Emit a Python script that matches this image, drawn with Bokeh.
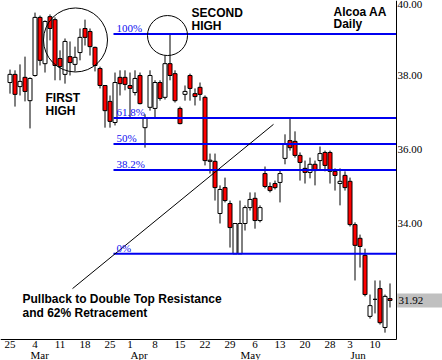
from bokeh.plotting import figure
from bokeh.models import Range1d, FixedTicker, PrintfTickFormatter, Label, ColumnDataSource
from bokeh.embed import file_html
from bokeh.resources import INLINE

# ---- data -----------------------------------------------------------
day_ticks = [0, 5, 10, 15, 20, 24, 29, 34, 39, 44, 49, 54, 59, 64, 68, 73]
day_labels = ["25", "4", "11", "18", "25", "1", "8", "15", "22", "29", "6", "13", "20", "28", "3", "10"]
month_starts = [4, 24, 46, 68]
month_labels = ["Mar", "Apr", "May", "Jun"]
price_ticks = [34, 36, 38, 40]

opens = [37.81, 38.03, 37.70, 37.95, 37.32, 38.00, 39.57, 38.32, 39.59, 39.51,
         38.46, 38.03, 38.51, 38.30, 38.62, 39.27, 39.19, 38.76, 38.19, 37.73,
         37.30, 36.73, 37.95, 37.95, 37.73, 37.54, 38.00, 36.59, 37.14, 37.11,
         37.81, 37.41, 38.32, 38.05, 37.11, 37.49, 38.00, 37.51, 37.68, 37.41,
         35.68, 35.68, 34.27, 34.97, 34.54, 33.18, 33.18, 34.00, 34.43, 34.68,
         34.08, 35.35, 35.00, 35.08, 35.11, 35.76, 36.24, 36.22, 35.84, 35.49,
         35.38, 35.60, 35.70, 35.92, 35.92, 35.41, 35.08, 35.30, 35.14, 33.97,
         33.60, 33.14, 31.49, 31.95, 32.24, 31.19, 31.97]
closes = [38.03, 37.49, 37.84, 37.57, 37.92, 39.57, 38.41, 39.46, 39.27, 38.27,
          38.24, 38.92, 38.35, 38.49, 39.03, 39.03, 38.78, 38.27, 37.73, 37.05,
          36.76, 37.81, 37.78, 37.76, 37.65, 37.92, 37.24, 36.84, 38.00, 37.81,
          37.38, 38.32, 38.00, 37.32, 36.70, 37.57, 37.65, 37.43, 37.49, 35.70,
          35.71, 34.97, 34.92, 34.62, 33.89, 34.00, 34.00, 34.43, 34.65, 34.08,
          34.43, 35.00, 34.89, 34.97, 35.35, 36.16, 36.05, 35.84, 35.65, 35.38,
          35.60, 35.43, 35.89, 35.57, 35.41, 35.30, 35.14, 34.97, 33.97, 33.41,
          33.38, 32.08, 31.78, 31.95, 31.32, 32.03, 31.92]
highs = [38.16, 38.14, 38.30, 38.51, 37.95, 39.70, 39.62, 39.49, 39.65, 39.57,
         38.68, 39.00, 38.92, 38.78, 39.27, 39.51, 39.27, 38.78, 38.24, 37.73,
         37.46, 38.08, 38.14, 38.14, 38.08, 38.14, 38.08, 36.95, 38.14, 37.87,
         37.87, 38.54, 39.12, 38.14, 37.16, 37.73, 38.05, 37.65, 37.81, 37.46,
         35.89, 35.89, 35.03, 35.24, 34.62, 34.01, 34.62, 34.49, 34.84, 34.84,
         34.49, 35.54, 35.11, 35.16, 35.46, 36.41, 36.86, 36.49, 35.92, 35.70,
         35.78, 35.70, 36.08, 35.97, 35.97, 35.49, 35.49, 35.41, 35.24, 34.03,
         33.70, 33.32, 32.08, 32.46, 32.46, 32.08, 32.38]
lows = [37.51, 37.16, 37.46, 37.30, 36.57, 37.97, 38.27, 38.08, 38.95, 37.87,
        37.87, 37.78, 38.00, 38.11, 38.41, 38.81, 38.54, 38.11, 37.65, 36.59,
        36.59, 36.65, 37.46, 37.60, 36.86, 37.46, 37.22, 36.05, 37.05, 36.86,
        37.32, 37.35, 37.87, 37.27, 36.68, 37.32, 37.32, 37.19, 37.32, 35.57,
        35.35, 34.62, 34.00, 34.57, 33.35, 33.18, 33.18, 33.81, 34.35, 33.86,
        34.03, 34.95, 34.84, 34.92, 34.57, 35.60, 35.97, 35.78, 35.16, 35.08,
        35.22, 35.03, 35.46, 35.41, 35.08, 34.89, 34.49, 34.89, 33.92, 32.46,
        32.81, 32.03, 31.43, 31.57, 31.27, 31.05, 31.73]

fib_high = 39.12
fib_low = 33.18
fib_ratios = [1.0, 0.618, 0.5, 0.382, 0.0]
fib_labels = ["100%", "61.8%", "50%", "38.2%", "0%"]
fib_start = 20.7
last_price = 31.92

circle_x = [13.1, 31.5]
circle_y = [38.96, 39.08]
circle_r = [6.4, 4.0]
trend_x = [12.5, 52.7]
trend_y = [32.24, 36.68]

# ---- figure ---------------------------------------------------------
PX_X = 5.0      # pixels per trading day
PX_Y = 37.0     # pixels per dollar
X0 = -1.9
X1 = X0 + 442 / PX_X
Y1 = 40.027
Y0 = Y1 - 360 / PX_Y
AX_X = X0 + 396 / PX_X   # right axis position
AX_Y = Y1 - 339 / PX_Y   # bottom axis position
LIFT = 4                 # baseline correction for labels, px

p = figure(width=442, height=360, output_backend="svg", toolbar_location=None,
           x_range=Range1d(X0, X1), y_range=Range1d(Y0, Y1),
           y_axis_location="right",
           min_border_left=0, min_border_top=0, min_border_right=0, min_border_bottom=0)
p.outline_line_color = None
p.xgrid.visible = False
p.ygrid.visible = False
p.background_fill_color = "white"
p.border_fill_color = "white"

NARROW = "Liberation Sans Narrow"
BOLD = "Liberation Sans"

xa = p.xaxis[0]
xa.fixed_location = AX_Y
xa.bounds = (X0, AX_X)
xa.ticker = FixedTicker(ticks=day_ticks)
xa.major_label_overrides = {t: l for t, l in zip(day_ticks, day_labels)}
xa.major_tick_line_color = None
xa.minor_tick_line_color = None
xa.major_tick_out = 0
xa.major_tick_in = 0
xa.major_label_standoff = 1
xa.major_label_text_font = NARROW
xa.major_label_text_font_size = "11px"
xa.major_label_text_color = "black"
xa.axis_line_color = "black"

ya = p.yaxis[0]
ya.fixed_location = AX_X
ya.bounds = (AX_Y, Y1)
ya.ticker = FixedTicker(ticks=price_ticks)
ya.formatter = PrintfTickFormatter(format="%.2f")
ya.major_tick_line_color = None
ya.minor_tick_line_color = None
ya.major_tick_out = 0
ya.major_tick_in = 0
ya.major_label_standoff = 1
ya.major_label_text_font = NARROW
ya.major_label_text_font_size = "11px"
ya.major_label_text_color = "black"
ya.axis_line_color = "black"

# candles
idx = list(range(len(opens)))
tops = [max(o, c) for o, c in zip(opens, closes)]
bots = [min(o, c) for o, c in zip(opens, closes)]
cols = ["white" if c >= o else "#ff0000" for o, c in zip(opens, closes)]
src = ColumnDataSource(dict(x=idx, hi=highs, lo=lows, top=tops, bot=bots, col=cols))
p.segment(x0="x", y0="lo", x1="x", y1="hi", source=src, line_color="black", line_width=1)
p.vbar(x="x", width=0.8, top="top", bottom="bot", source=src,
       fill_color="col", line_color="black", line_width=1)

# fibonacci levels
levels = [fib_low + r * (fib_high - fib_low) for r in fib_ratios]
p.segment(x0=[fib_start] * len(levels), x1=[AX_X] * len(levels), y0=levels, y1=levels,
          line_color="#0000f0", line_width=2)
for lv, lab in zip(levels, fib_labels):
    p.add_layout(Label(x=fib_start, y=lv, x_offset=3, y_offset=2 + LIFT, text=lab,
                       text_font=NARROW, text_font_size="11px", text_color="#1010f0",
                       text_baseline="alphabetic"))

# annotations
p.circle(x=circle_x, y=circle_y, radius=circle_r, fill_color=None, line_color="black", line_width=1)
p.line(x=trend_x, y=trend_y, line_color="black", line_width=1)

def btxt(x, y, t):
    p.add_layout(Label(x=x, y=y, y_offset=LIFT, text=t, text_font=BOLD, text_font_style="bold",
                       text_font_size="12px", text_color="black", text_baseline="alphabetic"))

btxt(7.1, 37.29, "FIRST")
btxt(7.1, 36.92, "HIGH")
btxt(36.3, 39.58, "SECOND")
btxt(36.3, 39.22, "HIGH")
btxt(64.7, 39.62, "Alcoa AA")
btxt(64.7, 39.29, "Daily")
btxt(2.5, 31.85, "Pullback to Double Top Resistance")
btxt(2.5, 31.48, "and 62% Retracement")

# month labels under the day labels
month_y = Y1 - 358 / PX_Y
for m, lab in zip(month_starts, month_labels):
    p.add_layout(Label(x=m, y=month_y, x_offset=0.5, y_offset=LIFT, text=lab,
                       text_font=NARROW, text_font_size="11px", text_color="black",
                       text_baseline="alphabetic"))

# last price box on the price scale
half = 7.0 / PX_Y
p.quad(left=[AX_X + 0.15], right=[X1], bottom=[last_price - half], top=[last_price + half],
       fill_color="#c0c0c0", line_color=None)
p.add_layout(Label(x=AX_X, y=last_price, x_offset=2, text="%.2f" % last_price,
                   text_font=NARROW, text_font_size="11px", text_color="black",
                   text_baseline="middle"))

open("out.html", "w").write(file_html(p, INLINE))
